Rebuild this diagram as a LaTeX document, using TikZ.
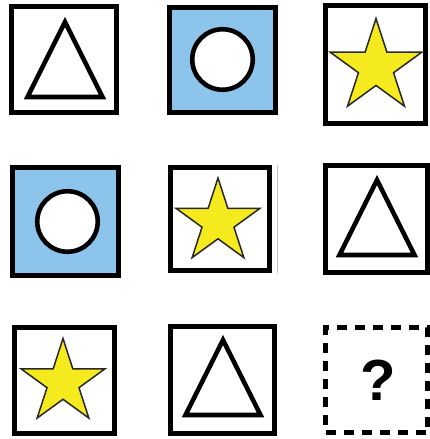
\documentclass[tikz,border=0pt]{standalone}
\usepackage{fontspec}
\newfontfamily\qfont{Liberation Sans}
\usepackage{tikz}
\usetikzlibrary{positioning, calc}

\definecolor{qblue}{RGB}{140,196,236}
\definecolor{qyellow}{RGB}{245,234,30}
\definecolor{qedge}{RGB}{40,40,40}

\tikzset{
    starpic/.pic={
        \draw[staredge] (-90:44) \foreach \a in {0,72,144,216,288}{ -- (-54+\a:16.8) -- (-18+\a:44)} -- cycle;
    },
    tripic/.pic={
        \draw[shapeline] (0,-38) -- (37.5,37) -- (-37.5,37) -- cycle;
    }
}

\begin{document}
\begin{tikzpicture}[
    x=1pt, y=-1pt,
    box/.style={draw, line width=5pt, inner sep=0pt, minimum width=104pt, minimum height=106pt, fill=white},
    bluebox/.style={box, fill=qblue},
    openbox/.style={box, dashed, dash pattern=on 10pt off 8pt},
    shapeline/.style={line width=4.6pt, line join=miter, fill=white},
    staredge/.style={draw=qedge, line width=1.5pt, fill=qyellow, line join=miter},
    ring/.style={draw, circle, line width=4.6pt, fill=white, minimum size=60.5pt, inner sep=0pt},
    qmark/.style={font=\qfont\bfseries\fontsize{58}{58}\selectfont, inner sep=0pt}
]
    \useasboundingbox (0,0) rectangle (430,439);

    % Row 1
    \node[box, minimum width=105pt, minimum height=106pt] (b11) at (64,59.5) {};
    \node[bluebox, minimum width=106pt, minimum height=105pt] (b12) at (222.5,60) {};
    \node[box, minimum width=100pt, minimum height=118pt] (b13) at (375.5,64.5) {};

    % Row 2
    \node[bluebox, minimum width=106pt, minimum height=108pt] (b21) at (65.5,221.5) {};
    \node[box, minimum width=99pt, minimum height=103pt] (b22) at (220,219) {};
    \node[box, minimum width=102pt, minimum height=107pt] (b23) at (376.5,219) {};

    % Row 3
    \node[box, minimum width=100pt, minimum height=106pt] (b31) at (64.5,380.5) {};
    \node[box, minimum width=104pt, minimum height=107pt] (b32) at (222.5,380) {};
    \node[openbox, minimum width=102pt, minimum height=105pt] (b33) at (376.5,380) {};

    % Figures
    \pic at ($(b11)+(1,0.5)$) {tripic};
    \node[ring] (c12) at ($(b12)+(0,-0.5)$) {};
    \pic[scale=1.1] at ($(b13)+(0.5,2.5)$) {starpic};

    \node[ring] (c21) at ($(b21)+(2,0)$) {};
    \pic at ($(b22)+(-2,3)$) {starpic};
    \pic at ($(b23)+(0.5,-1)$) {tripic};

    \pic at ($(b31)+(-1.5,2)$) {starpic};
    \pic at ($(b32)+(0.5,-2)$) {tripic};
    \node[qmark] (q) at ($(b33)+(1.5,0)$) {?};

    % scan edge beside the middle box
    \draw[gray!45, line width=0.8pt] ($(b22.north east)+(5,0)$) -- ($(b22.south east)+(5,0)$);
\end{tikzpicture}
\end{document}
